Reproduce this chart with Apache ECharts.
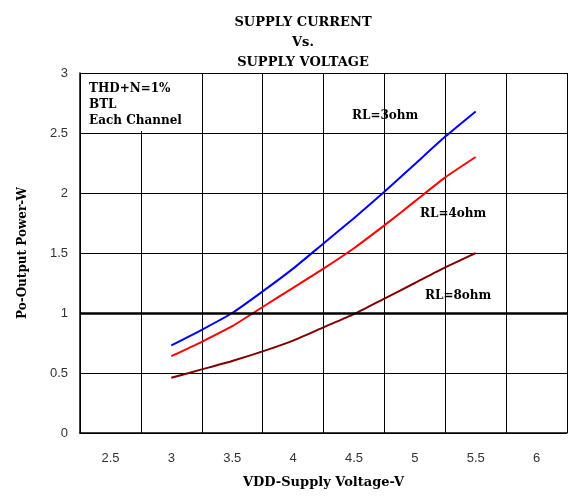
<!DOCTYPE html>
<html>
<head>
<meta charset="utf-8">
<script src="https://cdn.jsdelivr.net/npm/echarts@6/dist/echarts.min.js"></script>
<style>
  html, body { margin: 0; padding: 0; background: #fff; }
  #chart { width: 569px; height: 497px; }
</style>
</head>
<body>
<div id="chart"></div>
<script>
// Supply voltage steps shown on the category axis
const voltageTicks = ['2.5', '3', '3.5', '4', '4.5', '5', '5.5', '6'];
// Sample voltages for the measured curves
const vdd = [3, 3.25, 3.5, 3.75, 4, 4.25, 4.5, 4.75, 5, 5.25, 5.5];
// Output power (W) at THD+N = 1%, BTL, each channel
const powerRL3 = [0.73, 0.86, 1.00, 1.18, 1.37, 1.58, 1.79, 2.01, 2.24, 2.47, 2.68];
const powerRL4 = [0.64, 0.76, 0.89, 1.05, 1.21, 1.37, 1.54, 1.73, 1.93, 2.13, 2.30];
const powerRL8 = [0.46, 0.53, 0.60, 0.68, 0.77, 0.88, 0.99, 1.12, 1.25, 1.38, 1.50];

const serifBold = { fontFamily: 'DejaVu Serif', fontWeight: 'bold', color: '#000' };
const noteFont = 'bold 12px "DejaVu Serif"';

const pairs = arr => vdd.map((v, i) => [v, arr[i]]);

const chart = echarts.init(document.getElementById('chart'));
chart.setOption({
  animation: false,
  backgroundColor: '#fff',
  title: {
    text: 'SUPPLY CURRENT\nVs.\nSUPPLY VOLTAGE',
    left: 298, top: 8, textAlign: 'center',
    textStyle: Object.assign({ fontSize: 13, lineHeight: 20 }, serifBold)
  },
  grid: { left: 80, right: 2, top: 73, bottom: 64, outerBoundsMode: 'none', containLabel: false },
  xAxis: [
    {
      type: 'category',
      data: voltageTicks,
      boundaryGap: true,
      axisLine: { lineStyle: { color: '#000', width: 1.5 } },
      axisTick: { show: false },
      axisLabel: { color: '#333', fontFamily: 'Liberation Sans', fontSize: 13, margin: 19 },
      splitLine: { show: true, lineStyle: { color: '#000', width: 1 } },
      name: 'VDD-Supply Voltage-V',
      nameLocation: 'middle',
      nameGap: 43,
      nameTextStyle: Object.assign({ fontSize: 13 }, serifBold)
    },
    {
      type: 'value',
      min: 2.25, max: 6.25,
      show: false,
      position: 'bottom'
    }
  ],
  yAxis: {
    type: 'value',
    min: 0, max: 3, interval: 0.5,
    axisLine: { show: true, lineStyle: { color: '#000', width: 1.5 } },
    axisTick: { show: false },
    axisLabel: { color: '#333', fontFamily: 'Liberation Sans', fontSize: 13, margin: 12 },
    splitLine: { show: true, lineStyle: { color: '#000', width: 1 } },
    name: 'Po-Output Power-W',
    nameLocation: 'middle',
    nameGap: 51,
    nameTextStyle: Object.assign({ fontSize: 12 }, serifBold)
  },
  series: [
    {
      name: 'RL=3ohm', type: 'line', xAxisIndex: 1,
      data: pairs(powerRL3), showSymbol: false, smooth: 0.2,
      lineStyle: { color: '#0000ff', width: 2 },
      markLine: {
        silent: true, symbol: 'none', label: { show: false },
        lineStyle: { color: '#000', width: 2.5, type: 'solid' },
        data: [{ yAxis: 1 }]
      },
      z: 4
    },
    {
      name: 'RL=4ohm', type: 'line', xAxisIndex: 1,
      data: pairs(powerRL4), showSymbol: false, smooth: 0.2,
      lineStyle: { color: '#ff0000', width: 2 },
      z: 4
    },
    {
      name: 'RL=8ohm', type: 'line', xAxisIndex: 1,
      data: pairs(powerRL8), showSymbol: false, smooth: 0.2,
      lineStyle: { color: '#800000', width: 2 },
      z: 4
    }
  ],
  graphic: [
    // condition note box in the upper-left corner of the plot
    { type: 'rect', left: 81, top: 74, z: 10,
      shape: { width: 120, height: 57 },
      style: { fill: '#fff' } },
    { type: 'text', left: 89, top: 81, z: 11,
      style: { text: 'THD+N=1%\nBTL\nEach Channel', font: noteFont, lineHeight: 16, fill: '#000' } },
    // curve labels
    { type: 'text', left: 352, top: 110, z: 10,
      style: { text: 'RL=3ohm', font: noteFont, fill: '#000' } },
    { type: 'text', left: 420, top: 208, z: 10,
      style: { text: 'RL=4ohm', font: noteFont, fill: '#000' } },
    { type: 'text', left: 425, top: 290, z: 10,
      style: { text: 'RL=8ohm', font: noteFont, fill: '#000' } }
  ]
});
</script>
</body>
</html>
